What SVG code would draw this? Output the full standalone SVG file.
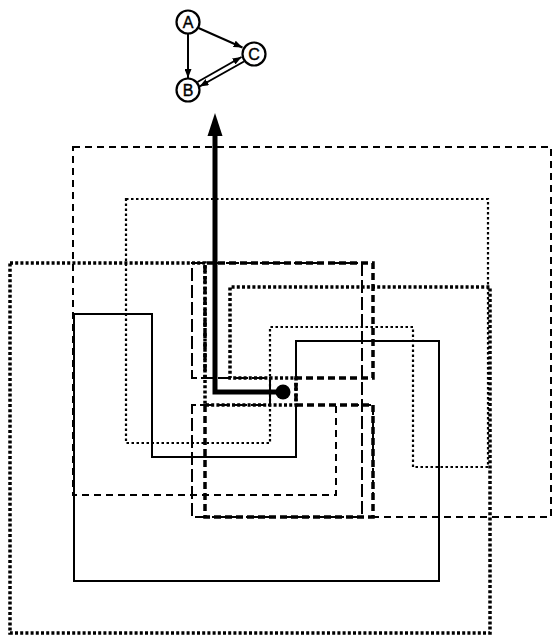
<svg xmlns="http://www.w3.org/2000/svg" width="555" height="638" viewBox="0 0 555 638">
<style>
.bg{fill:#fff}
.shape{fill:none;stroke:#000;stroke-linejoin:miter}
.solid{stroke-width:2}
.dash{stroke-width:2;stroke-dasharray:7 5}
.fdot{stroke-width:2.2;stroke-dasharray:2.5 2.5}
.hdot{stroke-width:3.5;stroke-dasharray:3 2.2}
.ldash{stroke-width:2;stroke-dasharray:13 4}
.hdash{stroke-width:3.5;stroke-dasharray:7 4}
.node circle{fill:#fff;stroke:#000;stroke-width:2.2}
.node text{font-family:"Liberation Sans",Arial,sans-serif;font-size:16px;text-anchor:middle;fill:#000;stroke:#000;stroke-width:0.4}
.edge{stroke:#000;stroke-width:2;fill:none}
</style>
<defs>
<marker id="ah" viewBox="0 0 9 7" refX="9" refY="3.5" markerWidth="9" markerHeight="7" orient="auto" markerUnits="userSpaceOnUse">
<path d="M0,0 L9,3.5 L0,7 z" fill="#000"/>
</marker>
</defs>
<rect class="bg" width="555" height="638"/>

<g id="regions">
<polygon id="heavy-dotted" class="shape hdot" points="10,263 205,263 205,405 296,405 296,378 230,378 230,287 490,287 490,633 10,633"/>
<polygon id="dashed" class="shape dash" points="73,147 551,147 551,517 373,517 373,405 336,405 336,495 73,495"/>
<polygon id="fine-dotted" class="shape fdot" points="126,199 488,199 488,467 413,467 413,327 270,327 270,443 126,443"/>
<path id="solid" class="shape solid" d="M296,378 L296,341 L439,341 L439,581 L74,581 L74,314 L152,314 L152,457 L296,457 L296,405"/>
<polygon id="long-dashed" class="shape ldash" points="192,263 362,263 362,517 192,517 192,405 270,405 270,378 192,378"/>
<path id="heavy-dashed" class="shape hdash" d="M205,405 L205,517 L373,517 L373,405 L296,405 L296,378 L373,378 L373,263 L205,263 L205,378"/>
</g>

<g id="path-arrow">
<polyline points="277,392 215,392 215,132" fill="none" stroke="#000" stroke-width="5"/>
<polygon points="215,113 207.5,136 222.5,136" fill="#000"/>
<circle cx="283" cy="392" r="7.5" fill="#000"/>
</g>

<g id="connectors">
<line class="edge" x1="188" y1="34" x2="188" y2="78" marker-end="url(#ah)"/>
<line class="edge" x1="198.5" y1="28" x2="242.5" y2="47.5" marker-end="url(#ah)"/>
<line class="edge" x1="197.5" y1="82" x2="241.5" y2="57" marker-end="url(#ah)"/>
<line class="edge" x1="244" y1="61.5" x2="199.5" y2="86.5" marker-end="url(#ah)"/>
</g>

<g id="A" class="node"><circle cx="188" cy="22" r="11.5"/><text x="188" y="27.8">A</text></g>
<g id="B" class="node"><circle cx="188" cy="90" r="11.5"/><text x="188" y="95.8">B</text></g>
<g id="C" class="node"><circle cx="254" cy="54" r="11.5"/><text x="254" y="59.8">C</text></g>
</svg>
